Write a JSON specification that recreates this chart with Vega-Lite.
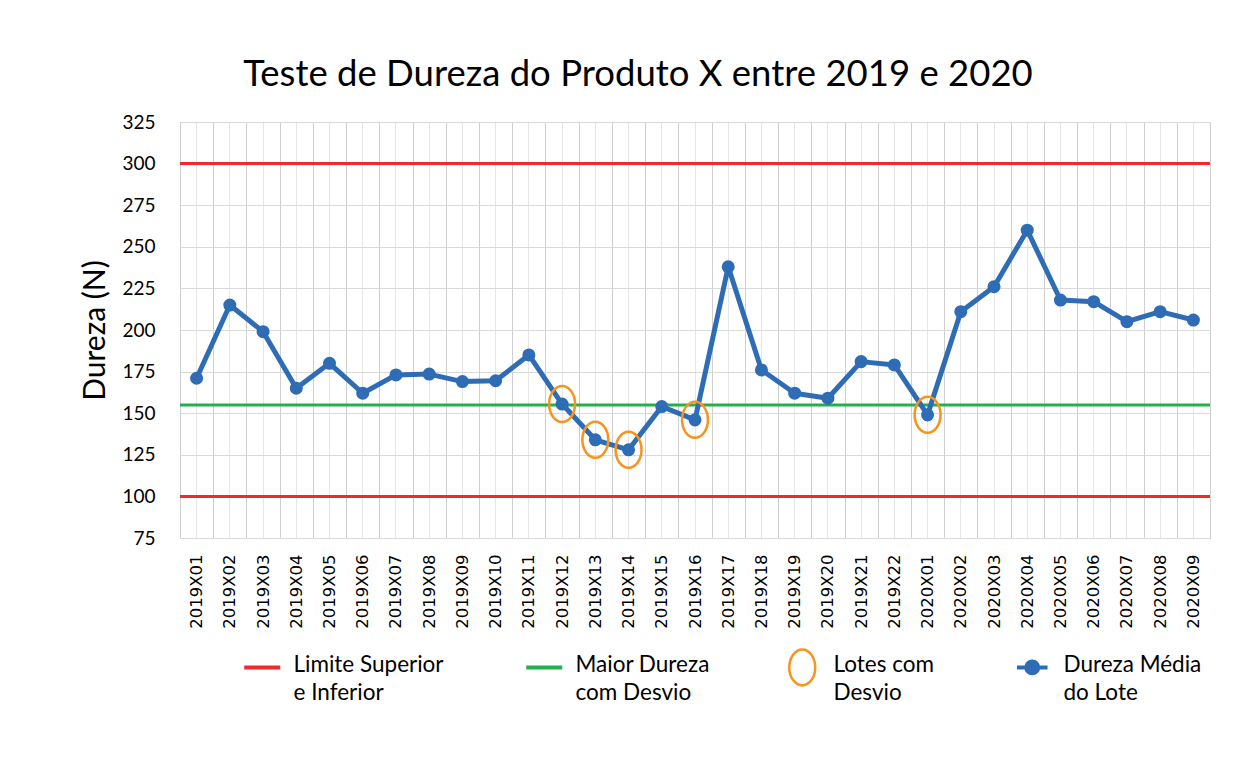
{
  "$schema": "https://vega.github.io/schema/vega-lite/v6.json",
  "width": 1030,
  "height": 416,
  "autosize": "none",
  "padding": {"left": 180, "top": 122, "right": 34, "bottom": 225},
  "background": "white",
  "title": {
    "text": "Teste de Dureza do Produto X entre 2019 e 2020",
    "font": "Lato",
    "fontSize": 36.5,
    "fontWeight": "normal",
    "color": "#000000",
    "anchor": "middle",
    "dx": -57,
    "offset": 20
  },
  "datasets": {
    "limites": [
      {"serie": "Limite Superior e Inferior", "valor": 300},
      {"serie": "Limite Superior e Inferior", "valor": 100},
      {"serie": "Maior Dureza com Desvio", "valor": 155}
    ],
    "lotes": [
      {"lote": "2019X01", "dureza": 171, "desvio": false},
      {"lote": "2019X02", "dureza": 215, "desvio": false},
      {"lote": "2019X03", "dureza": 199, "desvio": false},
      {"lote": "2019X04", "dureza": 165, "desvio": false},
      {"lote": "2019X05", "dureza": 180, "desvio": false},
      {"lote": "2019X06", "dureza": 162, "desvio": false},
      {"lote": "2019X07", "dureza": 173, "desvio": false},
      {"lote": "2019X08", "dureza": 173.5, "desvio": false},
      {"lote": "2019X09", "dureza": 169, "desvio": false},
      {"lote": "2019X10", "dureza": 169.5, "desvio": false},
      {"lote": "2019X11", "dureza": 185, "desvio": false},
      {"lote": "2019X12", "dureza": 155.5, "desvio": true},
      {"lote": "2019X13", "dureza": 134, "desvio": true},
      {"lote": "2019X14", "dureza": 128, "desvio": true},
      {"lote": "2019X15", "dureza": 154, "desvio": false},
      {"lote": "2019X16", "dureza": 146, "desvio": true},
      {"lote": "2019X17", "dureza": 238, "desvio": false},
      {"lote": "2019X18", "dureza": 176, "desvio": false},
      {"lote": "2019X19", "dureza": 162, "desvio": false},
      {"lote": "2019X20", "dureza": 159, "desvio": false},
      {"lote": "2019X21", "dureza": 181, "desvio": false},
      {"lote": "2019X22", "dureza": 179, "desvio": false},
      {"lote": "2020X01", "dureza": 149, "desvio": true},
      {"lote": "2020X02", "dureza": 211, "desvio": false},
      {"lote": "2020X03", "dureza": 226, "desvio": false},
      {"lote": "2020X04", "dureza": 260, "desvio": false},
      {"lote": "2020X05", "dureza": 218, "desvio": false},
      {"lote": "2020X06", "dureza": 217, "desvio": false},
      {"lote": "2020X07", "dureza": 205, "desvio": false},
      {"lote": "2020X08", "dureza": 211, "desvio": false},
      {"lote": "2020X09", "dureza": 206, "desvio": false}
    ]
  },
  "layer": [
    {
      "data": {"name": "limites"},
      "mark": {"type": "rule", "strokeWidth": 3},
      "encoding": {
        "y": {
          "field": "valor",
          "type": "quantitative",
          "scale": {"domain": [75, 325], "nice": false, "zero": false},
          "axis": {
            "values": [75, 100, 125, 150, 175, 200, 225, 250, 275, 300, 325],
            "grid": true,
            "gridColor": "#d9d9d9",
            "gridWidth": 1,
            "domain": false,
            "ticks": false,
            "labelFont": "Lato",
            "labelFontSize": 19,
            "labelColor": "#000000",
            "labelPadding": 25,
            "title": "Dureza (N)",
            "titleFont": "Lato",
            "titleFontSize": 30,
            "titleFontWeight": "normal",
            "titleColor": "#000000",
            "titlePadding": 11
          }
        },
        "color": {
          "field": "serie",
          "type": "nominal",
          "scale": {
            "domain": ["Limite Superior e Inferior", "Maior Dureza com Desvio", "Lotes com Desvio", "Dureza Média do Lote"],
            "range": ["#EE2A2E", "#22B04B", "#F7941D", "#2E6DB6"]
          },
          "legend": {
            "title": null,
            "orient": "none",
            "legendX": 71,
            "legendY": 534,
            "direction": "horizontal",
            "columns": 4,
            "columnPadding": 74,
            "symbolSize": 1296,
            "labelOffset": 20,
            "labelFont": "Lato",
            "labelFontSize": 22.5,
            "labelColor": "#000000",
            "labelLimit": 400,
            "labelBaseline": "top",
            "labelExpr": "datum.label == 'Limite Superior e Inferior' ? ['Limite Superior', 'e Inferior'] : datum.label == 'Maior Dureza com Desvio' ? ['Maior Dureza', 'com Desvio'] : datum.label == 'Lotes com Desvio' ? ['Lotes com', 'Desvio'] : ['Dureza Média', 'do Lote']",
            "encode": {
              "labels": {"update": {"lineHeight": {"value": 28}, "dy": {"value": -13}}},
              "symbols": {
                "update": {
                  "fill": {"signal": "datum.value === 'Dureza Média do Lote' ? '#2E6DB6' : 'transparent'"},
                  "fillOpacity": {"signal": "datum.value === 'Dureza Média do Lote' ? 1 : 0"},
                  "stroke": {"scale": "color", "field": "value"},
                  "strokeWidth": {"signal": "datum.value === 'Lotes com Desvio' ? 2.5 : 4"},
                  "opacity": {"value": 1}
                }
              }
            }
          }
        }
      }
    },
    {
      "data": {"name": "lotes"},
      "mark": {"type": "line", "strokeWidth": 5, "strokeJoin": "round"},
      "encoding": {
        "x": {
          "field": "lote",
          "type": "nominal",
          "sort": null,
          "scale": {"type": "band", "paddingInner": 0, "paddingOuter": 0},
          "axis": {
            "orient": "bottom",
            "tickBand": "extent",
            "grid": true,
            "gridColor": "#cfcfcf",
            "ticks": false,
            "domain": false,
            "labelAngle": -90,
            "labelFont": "DejaVu Sans",
            "labelFontSize": 16.5,
            "labelColor": "#000000",
            "labelPadding": 16,
            "title": null
          }
        },
        "y": {"field": "dureza", "type": "quantitative"},
        "color": {"datum": "Dureza Média do Lote", "type": "nominal"}
      }
    },
    {
      "data": {"name": "lotes"},
      "mark": {"type": "point", "filled": true, "size": 170, "shape": "circle", "opacity": 1},
      "encoding": {
        "x": {
          "field": "lote",
          "type": "nominal",
          "sort": null,
          "scale": {"type": "band", "paddingInner": 0, "paddingOuter": 0},
          "axis": {
            "orient": "top",
            "grid": true,
            "gridColor": "#e6e6e6",
            "ticks": false,
            "domain": false,
            "labels": false,
            "title": null
          }
        },
        "y": {"field": "dureza", "type": "quantitative"},
        "color": {"datum": "Dureza Média do Lote", "type": "nominal"}
      }
    },
    {
      "data": {"name": "lotes"},
      "transform": [{"filter": "datum.desvio"}],
      "mark": {"type": "point", "filled": false, "size": 1296, "strokeWidth": 2.5, "opacity": 1},
      "encoding": {
        "x": {"field": "lote", "type": "nominal", "sort": null, "axis": null},
        "y": {"field": "dureza", "type": "quantitative"},
        "color": {"datum": "Lotes com Desvio", "type": "nominal"},
        "shape": {
          "datum": "Lotes com Desvio",
          "type": "nominal",
          "scale": {
            "domain": ["Limite Superior e Inferior", "Maior Dureza com Desvio", "Lotes com Desvio", "Dureza Média do Lote"],
            "range": ["stroke", "stroke", "M0,-1A0.72,1 0 1,1 0,1A0.72,1 0 1,1 0,-1Z", "M-0.85,0L0.85,0M0.33,0A0.33,0.33 0 1,1 -0.33,0A0.33,0.33 0 1,1 0.33,0Z"]
          },
          "legend": {
            "title": null,
            "encode": {
              "symbols": {
                "update": {
                  "fill": {"signal": "datum.value === 'Dureza Média do Lote' ? '#2E6DB6' : 'transparent'"},
                  "fillOpacity": {"signal": "datum.value === 'Dureza Média do Lote' ? 1 : 0"},
                  "stroke": {"scale": "color", "field": "value"},
                  "strokeWidth": {"signal": "datum.value === 'Lotes com Desvio' ? 2.5 : 4"},
                  "opacity": {"value": 1}
                }
              }
            }
          }
        }
      }
    }
  ],
  "resolve": {"axis": {"x": "independent"}},
  "config": {
    "view": {"stroke": "#cfcfcf"}
  }
}
